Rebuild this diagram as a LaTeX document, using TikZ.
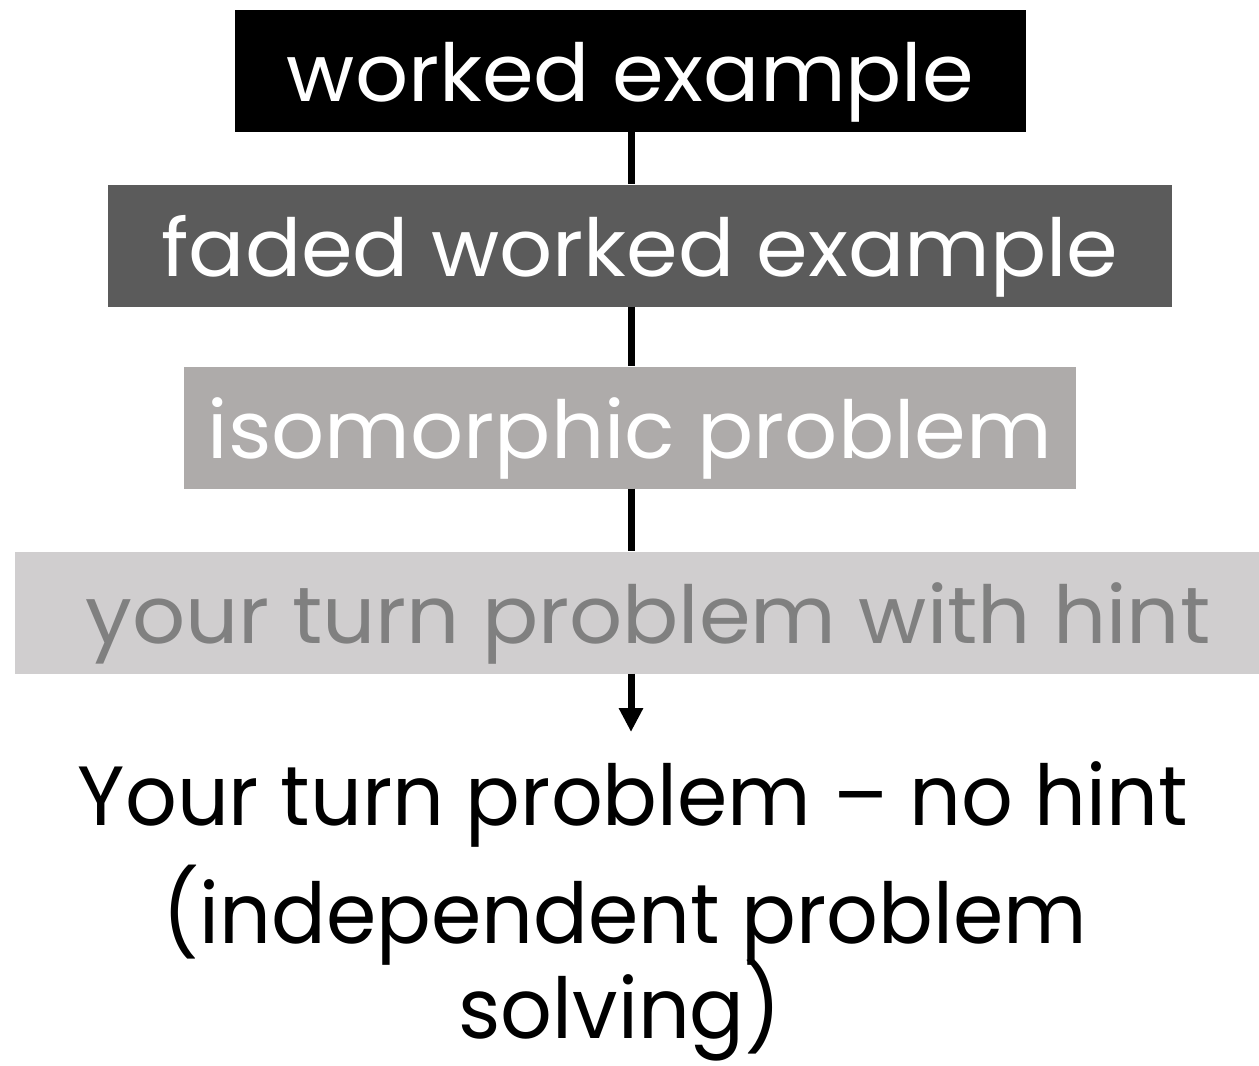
\documentclass[tikz,border=0pt]{standalone}
\usepackage{fontspec}
\setmainfont{Poppins}
\newfontfamily\stagefont[FakeStretch=1.04]{Poppins}
\newfontfamily\endfont[FakeStretch=0.965]{Poppins}
\usetikzlibrary{arrows.meta}
\definecolor{boxtwo}{HTML}{5B5B5B}
\definecolor{boxthree}{HTML}{AEABAA}
\definecolor{boxfour}{HTML}{D0CECF}
\definecolor{txtfour}{HTML}{808080}
\begin{document}
\begin{tikzpicture}[x=1pt,y=-1pt,
  stagebox/.style={inner sep=0pt, text height=91.5pt, text depth=30.5pt, anchor=base,
    font=\stagefont\fontsize{80}{96}\selectfont},
  finaltext/.style={inner sep=0pt, anchor=base, font=\endfont\fontsize{84}{100}\selectfont},
  link/.style={line width=7pt}]
\useasboundingbox (0,0) rectangle (1259,1066);
\node[stagebox, fill=black, text=white, minimum width=791pt] (b1) at (630.5,101) {worked example};
\node[stagebox, fill=boxtwo, text=white, minimum width=1064pt] (b2) at (640,276) {faded worked example};
\node[stagebox, fill=boxthree, text=white, minimum width=892pt] (b3) at (630,458) {isomorphic problem};
\node[stagebox, fill=boxfour, text=txtfour, minimum width=1300pt] (b4) at (665,643) {};
\node[stagebox, text=txtfour] (b4t) at (648,643) {your turn problem with hint};
\coordinate (tip) at (631,732);
\node[finaltext] (f1) at (633,825) {Your turn problem – no hint};
\node[finaltext] (f2) at (625,943) {(independent problem};
\node[finaltext] (f3) at (620,1038) {solving)};
\draw[link] (b1.south -| 631,0) -- (b2.north -| 631,0);
\draw[link] (b2.south -| 631,0) -- (b3.north -| 631,0);
\draw[link] (b3.south -| 631,0) -- (b4.north -| 631,0);
\draw[link, -{Triangle[width=23pt,length=24pt]}] (b4.south -| 631,0) -- (tip);
\end{tikzpicture}
\end{document}
